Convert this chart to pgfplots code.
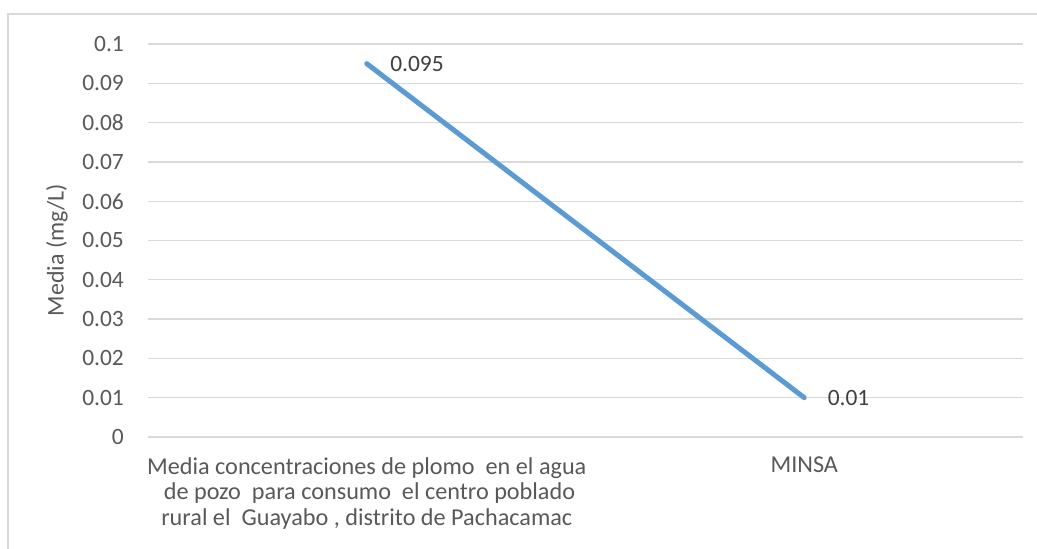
\documentclass[border=0pt]{standalone}
\usepackage{fontspec}
\setmainfont{Carlito}
\usepackage{pgfplots}
\pgfplotsset{compat=1.18}
\definecolor{serie}{HTML}{5B9BD5}
\definecolor{txt}{HTML}{595959}
\definecolor{lbl}{HTML}{404040}
\definecolor{grd}{HTML}{D9D9D9}
\begin{document}
\begin{tikzpicture}[x=1bp,y=1bp]
\useasboundingbox (0,0) rectangle (1037,549);
\fill[white] (0,0) rectangle (1037,549);
\draw[grd, line width=1.2bp] (8,-2) -- (8,535) -- (1040,535);
\begin{axis}[
  at={(148bp,112bp)}, anchor=south west,
  scale only axis, width=875bp, height=393bp,
  xmin=0, xmax=2, ymin=0, ymax=0.1,
  axis line style={draw=none},
  tick style={draw=none},
  ymajorgrids, grid style={grd, line width=1.3bp},
  ytick={0,0.01,0.02,0.03,0.04,0.05,0.06,0.07,0.08,0.09,0.1},
  yticklabels={0,0.01,0.02,0.03,0.04,0.05,0.06,0.07,0.08,0.09,0.1},
  yticklabel style={font=\fontsize{23.5}{25}\selectfont, text=txt, inner sep=0pt, anchor=east, xshift=-24bp},
  xtick={0.5,1.5},
  xticklabels={{Media concentraciones de plomo\ \ en el agua\\\ de pozo\ \ para consumo\ \ el centro poblado\\ rural el\ \ Guayabo , distrito de Pachacamac}, MINSA},
  xticklabel style={font=\fontsize{24.3}{26}\selectfont, text=txt, align=center, inner sep=0pt, anchor=north, yshift=-20bp},
  ylabel={Media (mg/L)},
  ylabel style={font=\fontsize{24}{26}\selectfont, text=txt, at={(axis description cs:-0.104,0.476)}, anchor=center},
  clip=false,
  nodes near coords,
  point meta=explicit symbolic,
  every node near coord/.append style={font=\fontsize{23.5}{25}\selectfont, text=lbl, anchor=west, xshift=21bp, yshift=0bp, inner sep=0pt},
]
\addplot[serie, line width=5bp, line cap=round, mark=none] table[meta=lab] {
x y lab
0.5 0.095 0.095
1.5 0.01 0.01
};
\end{axis}
\end{tikzpicture}
\end{document}
